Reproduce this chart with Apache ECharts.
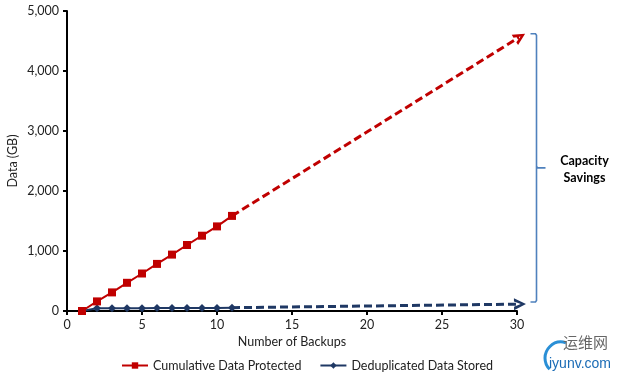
<!DOCTYPE html>
<html><head><meta charset="utf-8">
<script src="https://cdn.jsdelivr.net/npm/echarts@6/dist/echarts.min.js"></script>
<style>html,body{margin:0;padding:0;background:#fff}#c{width:624px;height:381px}</style>
</head><body><div id="c"></div>
<script>
// ---- data ----
const backups = [1, 2, 3, 4, 5, 6, 7, 8, 9, 10, 11];
const cumulative = [0, 160, 310, 470, 625, 785, 940, 1100, 1255, 1410, 1585];
const dedup = [0, 45, 45, 45, 45, 48, 48, 50, 52, 52, 55];
const projectedX = 30.2;
const cumulativeProjected = 4570;
const dedupProjected = 115;
const bracketX = 31.3;
const bracketTop = 4620;
const bracketBottom = 150;
const seriesNames = ['Cumulative Data Protected', 'Deduplicated Data Stored'];
const xAxisName = 'Number of Backups';
const yAxisName = 'Data (GB)';
const noteLines = ['Capacity', 'Savings'];

const RED = '#C00000', NAVY = '#1F3864', BR = '#4F81BD';
const FONT = 'Lato';
const arrowPath = 'path://M0,0 L10,5 L0,10 L0,7.2 L5.6,5 L0,2.8 Z';

const chart = echarts.init(document.getElementById('c'), null, {renderer: 'canvas'});
const lastIdx = backups.length - 1;

function buildSeries(redRot, navyRot) {
  return [
    {
      name: seriesNames[0], type: 'line',
      data: backups.map((b, i) => [b, cumulative[i]]),
      symbol: 'rect', symbolSize: 8, color: RED,
      lineStyle: {color: RED, width: 2}, itemStyle: {color: RED},
      z: 4, animation: false
    },
    {
      name: seriesNames[1], type: 'line',
      data: backups.map((b, i) => [b, dedup[i]]),
      symbol: 'diamond', symbolSize: 8, color: NAVY,
      lineStyle: {color: NAVY, width: 2}, itemStyle: {color: NAVY},
      z: 3, animation: false
    },
    {
      name: 'redProj', type: 'line', clip: false, animation: false,
      data: [
        {value: [backups[lastIdx], cumulative[lastIdx]], symbol: 'none'},
        {value: [projectedX, cumulativeProjected], symbol: arrowPath, symbolSize: [12, 12], symbolRotate: redRot, symbolKeepAspect: true}
      ],
      lineStyle: {color: RED, width: 3, type: [8, 4]}, itemStyle: {color: RED}, z: 2
    },
    {
      name: 'navyProj', type: 'line', clip: false, animation: false,
      data: [
        {value: [backups[lastIdx], dedup[lastIdx]], symbol: 'none'},
        {value: [projectedX, dedupProjected], symbol: arrowPath, symbolSize: [12, 12], symbolRotate: navyRot, symbolKeepAspect: true}
      ],
      lineStyle: {color: NAVY, width: 3, type: [8, 4]}, itemStyle: {color: NAVY}, z: 2
    }
  ];
}

const option = {
  animation: false,
  textStyle: {fontFamily: FONT},
  grid: {left: 67, right: 107, top: 11, bottom: 70, containLabel: false, outerBoundsMode: 'none'},
  legend: {
    data: seriesNames, bottom: 4, left: 116, itemGap: 18, itemWidth: 26, itemHeight: 8,
    textStyle: {fontFamily: FONT, fontSize: 12.5, color: '#222'}
  },
  xAxis: {
    type: 'value', min: 0, max: 30, interval: 5,
    name: xAxisName, nameLocation: 'middle', nameGap: 24, nameMoveOverlap: false,
    nameTextStyle: {fontFamily: FONT, fontSize: 12.5, color: '#222'},
    axisLine: {lineStyle: {color: '#000', width: 2}},
    axisTick: {show: true, length: 4, lineStyle: {color: '#000', width: 2}},
    axisLabel: {fontFamily: FONT, fontSize: 12.5, color: '#222', margin: 7},
    splitLine: {show: false}
  },
  yAxis: {
    type: 'value', min: 0, max: 5000, interval: 1000,
    name: yAxisName, nameLocation: 'middle', nameGap: 48, nameRotate: 90, nameMoveOverlap: false,
    nameTextStyle: {fontFamily: FONT, fontSize: 12.5, color: '#222'},
    axisLine: {show: true, lineStyle: {color: '#000', width: 2}},
    axisTick: {show: true, length: 4, lineStyle: {color: '#000', width: 2}},
    axisLabel: {fontFamily: FONT, fontSize: 12.5, color: '#222', margin: 8,
      formatter: v => v.toLocaleString('en-US')},
    splitLine: {show: false}
  },
  series: buildSeries(0, 0)
};
chart.setOption(option);

const P = (x, y) => chart.convertToPixel({gridIndex: 0}, [x, y]);
function angleDeg(a, b) { return Math.atan2(a[1] - b[1], b[0] - a[0]) * 180 / Math.PI; }
const rA = P(backups[lastIdx], cumulative[lastIdx]), rB = P(projectedX, cumulativeProjected);
const nA = P(backups[lastIdx], dedup[lastIdx]), nB = P(projectedX, dedupProjected);

const pTop = P(bracketX, bracketTop), pBot = P(bracketX, bracketBottom);
const bx = pTop[0], ty = pTop[1], by = pBot[1], my = (ty + by) / 2;

chart.setOption({
  series: buildSeries(angleDeg(rA, rB), angleDeg(nA, nB)),
  graphic: [
    {type: 'polyline', shape: {points: [[bx - 6, ty], [bx - 1, ty], [bx, ty + 1.5], [bx, by - 1.5], [bx - 1, by], [bx - 6, by]]},
      style: {stroke: BR, lineWidth: 1.6, fill: null}},
    {type: 'polyline', shape: {points: [[bx, my - 1.5], [bx + 1, my], [bx + 9, my]]},
      style: {stroke: BR, lineWidth: 1.6, fill: null}},
    {type: 'text', x: bx + 48, y: my + 2, style: {text: noteLines.join('\n'), fontFamily: FONT, fontWeight: 'bold',
      fontSize: 12.5, fill: '#000', align: 'center', verticalAlign: 'middle', lineHeight: 17}},
    // watermark
    {type: 'arc', shape: {cx: 561, cy: 358, r: 16, startAngle: Math.PI * 0.75, endAngle: Math.PI * 1.6},
      style: {stroke: '#2a8fd6', lineWidth: 3, fill: null}},
    {type: 'text', x: 563, y: 342, style: {text: '运维网', fontFamily: 'Noto Sans CJK SC', fontSize: 15, fill: '#666', verticalAlign: 'middle'}},
    {type: 'text', x: 549, y: 364, style: {text: 'iyunv.com', fontFamily: 'Liberation Sans', fontSize: 14, fill: '#1a6bb5', verticalAlign: 'middle'}}
  ]
});
</script></body></html>
